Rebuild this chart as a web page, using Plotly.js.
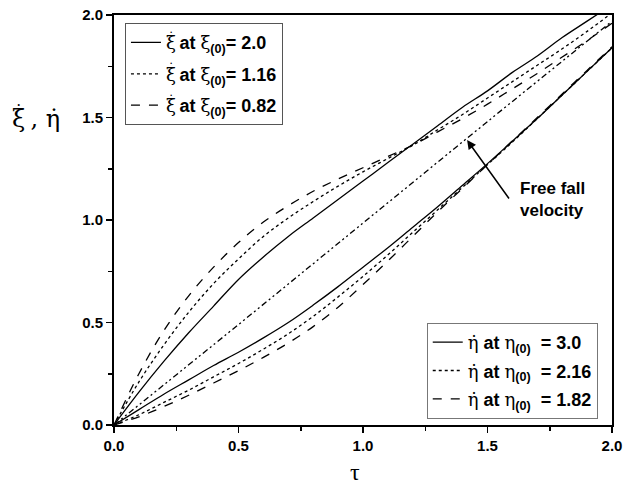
<!DOCTYPE html>
<html>
<head>
<meta charset="utf-8">
<script src="https://cdn.plot.ly/plotly-3.0.1.min.js"></script>
<style>html,body{margin:0;padding:0;background:#fff;}#chart{width:633px;height:490px;}</style>
</head>
<body>
<div id="chart"></div>
<script>
// τ sample points
const tau = [0,0.1,0.2,0.3,0.4,0.5,0.6,0.7,0.8,0.9,1.0,1.1,1.2,1.3,1.4,1.5,1.6,1.7,1.8,1.9,2.0];

// upper curves: xi-dot
const xiDot_20  = [0,0.16,0.31,0.45,0.58,0.71,0.82,0.92,1.01,1.10,1.19,1.28,1.37,1.46,1.55,1.63,1.72,1.80,1.89,1.97,2.05];
const xiDot_116 = [0,0.21,0.39,0.55,0.69,0.81,0.92,1.01,1.09,1.165,1.235,1.30,1.365,1.44,1.515,1.595,1.675,1.755,1.835,1.92,2.01];
const xiDot_082 = [0,0.25,0.46,0.63,0.77,0.89,0.99,1.07,1.14,1.20,1.255,1.31,1.365,1.43,1.495,1.565,1.64,1.715,1.795,1.875,1.96];

// lower curves: eta-dot
const etaDot_30  = [0,0.075,0.15,0.22,0.29,0.355,0.425,0.50,0.585,0.675,0.77,0.865,0.965,1.065,1.17,1.275,1.385,1.495,1.61,1.725,1.84];
const etaDot_216 = [0,0.05,0.11,0.17,0.235,0.30,0.37,0.445,0.53,0.625,0.725,0.83,0.94,1.05,1.16,1.27,1.38,1.495,1.61,1.725,1.84];
const etaDot_182 = [0,0.04,0.09,0.145,0.205,0.265,0.33,0.40,0.48,0.575,0.685,0.80,0.92,1.04,1.155,1.27,1.385,1.50,1.615,1.73,1.845];

// free fall velocity
const freeTau = [0,0.5,1.0,1.5,2.0];
const freeVel = [0,0.49,0.985,1.48,1.97];

const tickVals = [0,0.5,1.0,1.5,2.0];
const tickText = ['0.0','0.5','1.0','1.5','2.0'];

const xiLabels = ['2.0','1.16','0.82'];
const etaLabels = ['3.0','2.16','1.82'];

const SERIF = 'DejaVu Serif';
// xi with a dot placed above it (dot-accent raised as superscript, pulled back with letter-spacing)
const XI = '<span style="font-family:'+SERIF+';font-weight:normal;letter-spacing:-7.8px">\u03BE</span>' +
           '<sup><span style="font-family:'+SERIF+';font-weight:normal">\u02D9</span></sup>';
const XI0 = '<span style="font-family:'+SERIF+';font-weight:normal">\u03BE</span><sub>(0)</sub>';
const ETA = '<span style="font-family:'+SERIF+';font-weight:normal">\u03B7\u0307</span>';
const ETA0 = '<span style="font-family:'+SERIF+';font-weight:normal">\u03B7</span><sub>(0)</sub>';

function line(y, x, dash, name, legend, group, show){
  return {x:x, y:y, type:'scatter', mode:'lines', name:name, legend:legend, legendgroup:group, showlegend:show,
          line:{color:'#000', width:1.3, dash:dash, shape:'spline', smoothing:1}};
}

const traces = [
  line(xiDot_20, tau, 'solid', XI+' at '+XI0+'= '+xiLabels[0], 'legend', 'a', true),
  line(xiDot_116, tau, 'dot', XI+' at '+XI0+'= '+xiLabels[1], 'legend', 'b', true),
  line(xiDot_082, tau, 'dash', XI+' at '+XI0+'= '+xiLabels[2], 'legend', 'c', true),
  line(etaDot_30, tau, 'solid', ETA+' at '+ETA0+'\u00A0 = '+etaLabels[0], 'legend2', 'd', true),
  line(etaDot_216, tau, 'dot', ETA+' at '+ETA0+'\u00A0 = '+etaLabels[1], 'legend2', 'e', true),
  line(etaDot_182, tau, 'dash', ETA+' at '+ETA0+'\u00A0 = '+etaLabels[2], 'legend2', 'f', true),
  line(freeVel, freeTau, '6px,3px,2px,3px,2px,3px', 'Free fall', 'legend', 'g', false)
];

const tickFont = {family:'Liberation Sans, Arial', size:15, color:'#000', weight:'bold'};
const legFont = {family:'Liberation Sans, Arial', size:18, color:'#000', weight:'bold'};

const axisCommon = {
  range:[0,2], tickvals:tickVals, ticktext:tickText, ticks:'outside', ticklen:6, tickwidth:1.5,
  tickcolor:'#000', showline:true, linecolor:'#000', linewidth:2, mirror:true,
  showgrid:false, zeroline:false, tickfont:tickFont,
  minor:{tickvals:[0.25,0.75,1.25,1.75], ticks:'outside', ticklen:4, tickwidth:1.5, tickcolor:'#000', showgrid:false}
};

const layout = {
  width:633, height:490,
  margin:{l:114, r:21, t:15, b:65},
  paper_bgcolor:'#fff', plot_bgcolor:'#fff',
  xaxis:Object.assign({}, axisCommon),
  yaxis:Object.assign({}, axisCommon),
  legend:{x:0.022, y:0.98, xanchor:'left', yanchor:'top', bgcolor:'#fff', bordercolor:'#555', borderwidth:1,
          font:legFont, tracegroupgap:5},
  legend2:{x:0.628, y:0.249, xanchor:'left', yanchor:'top', bgcolor:'#fff', bordercolor:'#777', borderwidth:1,
          font:legFont, tracegroupgap:2},
  annotations:[
    {xref:'paper', yref:'paper', x:-0.209, y:0.796,
     text:'<span style="letter-spacing:-10.8px">\u03BE</span><sup>\u02D9</sup> , \u03B7\u0307', showarrow:false,
     font:{family:SERIF, size:24, color:'#000'}},
    {xref:'paper', yref:'paper', x:0.484, y:-0.115, text:'\u03C4', showarrow:false, yanchor:'middle',
     font:{family:'Liberation Serif', size:24, color:'#000'}},
    {x:1.418, y:1.39, ax:43, ay:60, text:'', showarrow:true, arrowhead:2, arrowsize:1.2, arrowwidth:1.5, arrowcolor:'#000'},
    {x:1.76, y:1.10, text:'Free fall<br>velocity', showarrow:false, align:'left',
     font:{family:'Liberation Sans, Arial', size:17, color:'#000', weight:'bold'}}
  ]
};

Plotly.newPlot('chart', traces, layout, {displayModeBar:false, staticPlot:true});
</script>
</body>
</html>
